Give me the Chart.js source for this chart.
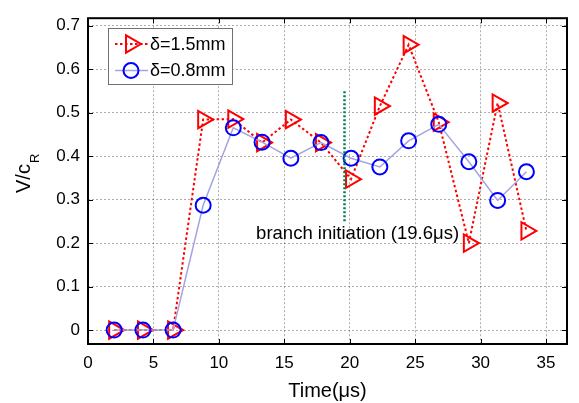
<!DOCTYPE html>
<html>
<head>
<meta charset="utf-8">
<script src="https://cdn.jsdelivr.net/npm/chart.js@4.4.1/dist/chart.umd.min.js"></script>
<style>
html,body{margin:0;padding:0;background:#fff;}
#wrap{width:579px;height:403px;}
</style>
</head>
<body>
<div id="wrap"><canvas id="c" width="579" height="403"></canvas></div>
<script>
// ---- data ----
const time = [2.0, 4.2, 6.5, 8.8, 11.1, 13.3, 15.5, 17.8, 20.1, 22.3, 24.5, 26.8, 29.1, 31.3, 33.5];
const v15 = [0, 0, 0, 0.484, 0.485, 0.431, 0.484, 0.431, 0.347, 0.515, 0.656, 0.478, 0.200, 0.522, 0.228];
const v08 = [0, 0, 0, 0.287, 0.465, 0.432, 0.395, 0.431, 0.395, 0.375, 0.435, 0.473, 0.387, 0.298, 0.364];
const seriesNames = ['\u03b4=1.5mm', '\u03b4=0.8mm'];
const branchX = [19.6, 19.6];
const branchY = [0.25, 0.55];
const annotText = 'branch initiation (19.6\u03bcs)';
const annotPos = [20.6, 0.21];
const xTicks = [0, 5, 10, 15, 20, 25, 30, 35];
const yTicks = [0, 0.1, 0.2, 0.3, 0.4, 0.5, 0.6, 0.7];
const xTitle = 'Time(\u03bcs)';
const yTitleMain = 'V/c';
const yTitleSub = 'R';

const FONT = '"Liberation Sans", Arial, sans-serif';
const RED = '#ff0000', BLUE = '#0000ff', BLUELINE = '#a3a3e2', GREEN = '#00804a';

function pts(xs, ys){ return xs.map((x,i)=>({x:x, y:ys[i]})); }

const overlay = {
  id: 'overlay',
  afterDraw(chart){
    const ctx = chart.ctx, ca = chart.chartArea;
    const xs = chart.scales.x, ys = chart.scales.y;
    ctx.save();
    // inward ticks
    ctx.strokeStyle = '#000'; ctx.lineWidth = 1;
    ctx.beginPath();
    xTicks.forEach(t=>{
      const px = Math.round(xs.getPixelForValue(t)) + 0.5;
      ctx.moveTo(px, ca.bottom); ctx.lineTo(px, ca.bottom - 5);
      ctx.moveTo(px, ca.top); ctx.lineTo(px, ca.top + 5);
    });
    yTicks.forEach(t=>{
      const py = Math.round(ys.getPixelForValue(t)) + 0.5;
      ctx.moveTo(ca.left, py); ctx.lineTo(ca.left + 5, py);
      ctx.moveTo(ca.right, py); ctx.lineTo(ca.right - 5, py);
    });
    ctx.stroke();
    // box
    ctx.lineWidth = 2;
    ctx.strokeRect(ca.left, ca.top, ca.right - ca.left, ca.bottom - ca.top);

    // annotation text
    ctx.fillStyle = '#000';
    ctx.font = '18.5px ' + FONT;
    ctx.textAlign = 'center'; ctx.textBaseline = 'alphabetic';
    ctx.fillText(annotText, xs.getPixelForValue(annotPos[0]), ys.getPixelForValue(annotPos[1]));

    // legend
    const lx = 108.5, ly = 28.5, lw = 124, lh = 56;
    ctx.fillStyle = '#fff';
    ctx.fillRect(lx, ly, lw, lh);
    ctx.strokeStyle = '#707070'; ctx.lineWidth = 1;
    ctx.strokeRect(lx, ly, lw, lh);
    const rows = [44, 70.5];
    // red entry
    ctx.strokeStyle = RED; ctx.lineWidth = 2; ctx.setLineDash([2.5,2.5]);
    ctx.beginPath(); ctx.moveTo(115, rows[0]); ctx.lineTo(148, rows[0]); ctx.stroke();
    ctx.setLineDash([]);
    const r = 10, cx = 131, cy = rows[0];
    ctx.beginPath();
    ctx.moveTo(cx + r, cy);
    ctx.lineTo(cx - 0.5*r, cy + 0.866*r);
    ctx.lineTo(cx - 0.5*r, cy - 0.866*r);
    ctx.closePath(); ctx.stroke();
    // blue entry
    ctx.strokeStyle = BLUELINE; ctx.lineWidth = 1.5;
    ctx.beginPath(); ctx.moveTo(115, rows[1]); ctx.lineTo(148, rows[1]); ctx.stroke();
    ctx.strokeStyle = BLUE; ctx.lineWidth = 2;
    ctx.beginPath(); ctx.arc(131, rows[1], 7.5, 0, Math.PI*2); ctx.stroke();
    ctx.fillStyle = '#000';
    ctx.font = '18px ' + FONT;
    ctx.textAlign = 'left'; ctx.textBaseline = 'middle';
    ctx.fillText(seriesNames[0], 150, rows[0] + 1);
    ctx.fillText(seriesNames[1], 150, rows[1] + 1);

    // axis titles
    ctx.font = '20px ' + FONT;
    ctx.textAlign = 'center'; ctx.textBaseline = 'alphabetic';
    ctx.fillText(xTitle, (ca.left + ca.right)/2, 397);
    ctx.save();
    ctx.translate(30, 193);
    ctx.rotate(-Math.PI/2);
    ctx.textAlign = 'left';
    ctx.font = '20px ' + FONT;
    ctx.fillText(yTitleMain, 0, 0);
    const w = ctx.measureText(yTitleMain).width;
    ctx.font = '13px ' + FONT;
    ctx.fillText(yTitleSub, w + 1, 8.5);
    ctx.restore();
    ctx.restore();
  }
};

new Chart(document.getElementById('c'), {
  type: 'line',
  data: {
    datasets: [
      { label: seriesNames[0], data: pts(time, v15), borderColor: RED, borderWidth: 2,
        borderDash: [2.5, 2.5], backgroundColor: 'rgba(0,0,0,0)', pointStyle: 'triangle', pointRotation: 90,
        pointRadius: 10, pointBorderWidth: 2, pointBorderColor: RED, pointBackgroundColor: 'rgba(0,0,0,0)',
        tension: 0, order: 3 },
      { label: seriesNames[1], data: pts(time, v08), borderColor: BLUELINE, borderWidth: 1.5,
        backgroundColor: 'rgba(0,0,0,0)', pointStyle: 'circle', pointRadius: 7.5, pointBorderWidth: 2,
        pointBorderColor: BLUE, pointBackgroundColor: 'rgba(0,0,0,0)', tension: 0, order: 2 },
      { label: 'branch', data: pts(branchX, branchY), borderColor: GREEN, borderWidth: 2.5,
        borderDash: [2, 2], pointRadius: 0, tension: 0, order: 1 }
    ]
  },
  options: {
    responsive: false, animation: false,
    layout: { padding: { left: 0, right: 8, top: 7, bottom: 0 } },
    plugins: { legend: { display: false }, tooltip: { enabled: false } },
    scales: {
      x: {
        type: 'linear', min: 0, max: 36.6,
        afterFit(s){ s.height = 59; },
        ticks: { stepSize: 5, includeBounds: false, padding: 9, color: '#000',
          font: { family: FONT, size: 17 }, maxRotation: 0 },
        grid: { drawTicks: false, color: 'rgba(0,0,0,0.32)', lineWidth: 1 },
        border: { display: false, dash: [2, 2] }
      },
      y: {
        type: 'linear', min: -0.032, max: 0.717,
        afterFit(s){ s.width = 88; },
        ticks: { stepSize: 0.1, includeBounds: false, padding: 8, color: '#000',
          font: { family: FONT, size: 17 }, callback: v => (Math.round(v*10)/10).toString() },
        grid: { drawTicks: false, color: 'rgba(0,0,0,0.32)', lineWidth: 1 },
        border: { display: false, dash: [2, 2] }
      }
    }
  },
  plugins: [overlay]
});
</script>
</body>
</html>
